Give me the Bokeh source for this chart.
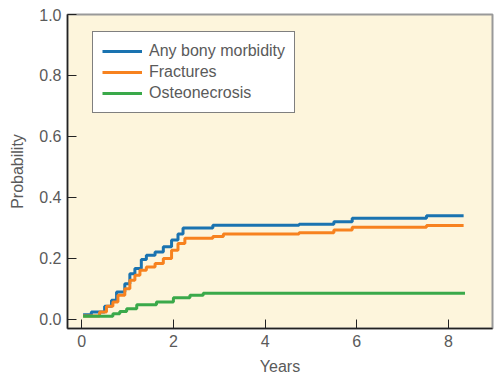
from bokeh.plotting import figure
from bokeh.models import Range1d, FixedTicker, Legend, LegendItem, NumeralTickFormatter
from bokeh.embed import file_html
from bokeh.resources import INLINE

# Any bony morbidity
any_x = [0.03, 0.21, 0.50, 0.65, 0.76, 0.94, 1.05, 1.16, 1.30, 1.41, 1.60, 1.78, 1.96, 2.10, 2.21, 2.86, 4.74, 5.50, 5.90, 7.52, 8.33]
any_y = [0.015, 0.024, 0.043, 0.063, 0.090, 0.117, 0.150, 0.167, 0.196, 0.210, 0.221, 0.238, 0.260, 0.280, 0.300, 0.309, 0.312, 0.320, 0.332, 0.340, 0.340]
# Fractures
fra_x = [0.03, 0.39, 0.54, 0.68, 0.79, 0.94, 1.05, 1.16, 1.27, 1.41, 1.60, 1.78, 1.96, 2.10, 2.25, 2.86, 3.09, 4.74, 5.50, 5.90, 7.52, 8.33]
fra_y = [0.011, 0.024, 0.043, 0.057, 0.079, 0.100, 0.128, 0.145, 0.161, 0.172, 0.183, 0.200, 0.227, 0.249, 0.266, 0.272, 0.280, 0.284, 0.293, 0.302, 0.308, 0.308]
# Osteonecrosis
ost_x = [0.03, 0.68, 0.83, 0.98, 1.20, 1.63, 2.00, 2.36, 2.65, 8.36]
ost_y = [0.010, 0.018, 0.026, 0.035, 0.048, 0.057, 0.071, 0.079, 0.086, 0.086]

names = ["Any bony morbidity", "Fractures", "Osteonecrosis"]
colors = ["#1a73b0", "#f7821f", "#3aa94a"]
x_ticks = [0, 2, 4, 6, 8]
y_ticks = [0.0, 0.2, 0.4, 0.6, 0.8, 1.0]

p = figure(width=498, height=377, output_backend="svg", toolbar_location=None,
           x_range=Range1d(-0.31, 8.96), y_range=Range1d(-0.03, 1.0),
           min_border_left=67, min_border_top=14, min_border_right=6, min_border_bottom=49)
p.background_fill_color = "#fdf5dc"
p.border_fill_color = "white"
p.outline_line_color = "#999999"
p.outline_line_width = 2
p.grid.visible = False

renderers = []
for xs, ys, c in zip([any_x, fra_x, ost_x], [any_y, fra_y, ost_y], colors):
    r = p.step(xs, ys, mode="after", line_color=c, line_width=3)
    renderers.append(r)

for ax in (p.xaxis[0], p.yaxis[0]):
    ax.axis_line_color = "#222222"
    ax.axis_line_width = 1.5
    ax.major_tick_in = 9
    ax.major_tick_out = 0
    ax.major_tick_line_color = "#222222"
    ax.minor_tick_line_color = None
    ax.major_label_text_font = "Liberation Sans"
    ax.major_label_text_font_size = "16px"
    ax.major_label_text_color = "#5a5a5a"
    ax.axis_label_text_font = "Liberation Sans"
    ax.axis_label_text_font_size = "16px"
    ax.axis_label_text_color = "#5a5a5a"
    ax.axis_label_text_font_style = "normal"

p.xaxis.ticker = FixedTicker(ticks=x_ticks)
p.yaxis.ticker = FixedTicker(ticks=y_ticks)
p.yaxis.formatter = NumeralTickFormatter(format="0.0")
p.xaxis.axis_label = "Years"
p.yaxis.axis_label = "Probability"
p.xaxis.major_label_standoff = 6
p.yaxis.major_label_standoff = 6
p.xaxis.axis_label_standoff = 8
p.yaxis.axis_label_standoff = 10

legend = Legend(items=[LegendItem(label=n, renderers=[r]) for n, r in zip(names, renderers)],
                location=(25, 215))
legend.border_line_color = "black"
legend.border_line_width = 1
legend.background_fill_color = "white"
legend.background_fill_alpha = 1
legend.label_text_font = "Liberation Sans"
legend.label_text_font_size = "16px"
legend.label_text_color = "#5a5a5a"
legend.glyph_width = 40
legend.glyph_height = 20
legend.label_height = 20
legend.label_standoff = 7
legend.spacing = 1
legend.padding = 9
legend.margin = 0
p.add_layout(legend)

open("out.html", "w").write(file_html(p, INLINE))
